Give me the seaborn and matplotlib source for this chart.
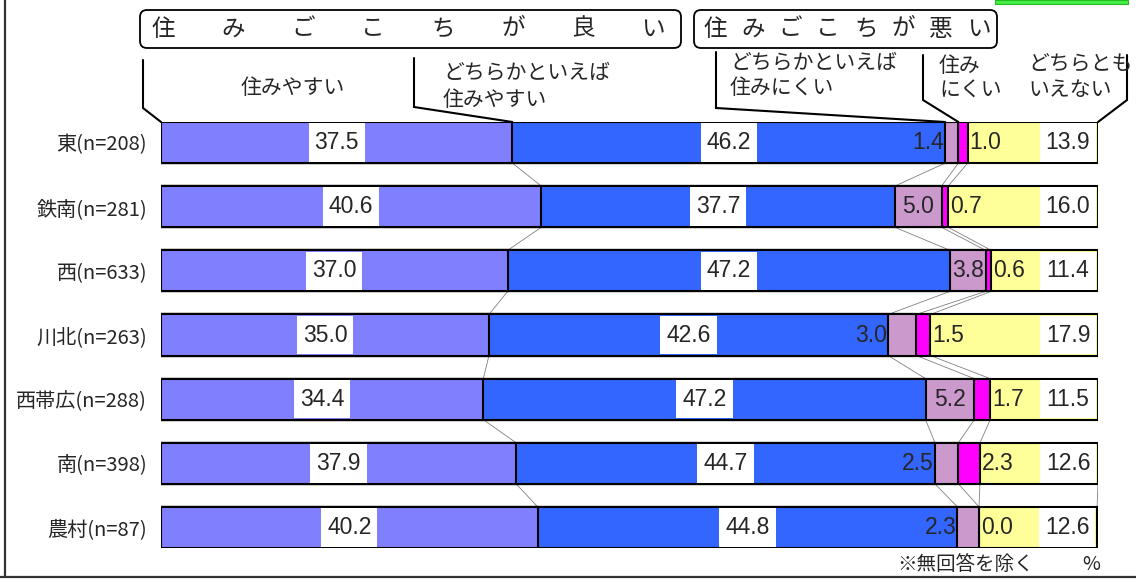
import numpy as np
import pandas as pd
import matplotlib
matplotlib.use("Agg")
import matplotlib.pyplot as plt
from matplotlib.patches import FancyBboxPatch, Rectangle
import seaborn as sns

# 地区別の住みごこち（%）
areas = ["東(n=208)", "鉄南(n=281)", "西(n=633)", "川北(n=263)",
         "西帯広(n=288)", "南(n=398)", "農村(n=87)"]
easy = [37.5, 40.6, 37.0, 35.0, 34.4, 37.9, 40.2]          # 住みやすい
rather_easy = [46.2, 37.7, 47.2, 42.6, 47.2, 44.7, 44.8]   # どちらかといえば住みやすい
rather_hard = [1.4, 5.0, 3.8, 3.0, 5.2, 2.5, 2.3]          # どちらかといえば住みにくい
hard = [1.0, 0.7, 0.6, 1.5, 1.7, 2.3, 0.0]                 # 住みにくい
neither = [13.9, 16.0, 11.4, 17.9, 11.5, 12.6, 12.6]       # どちらともいえない

colors = ["#8080FF", "#3366FF", "#CC99CC", "#FF00FF", "#FFFF99"]

sns.set_style("white")
plt.rcParams["font.family"] = ["Noto Sans CJK JP", "DejaVu Sans"]

W, H = 1136, 579
fig = plt.figure(figsize=(W / 100, H / 100), dpi=100)
fig.patch.set_facecolor("white")

ax = fig.add_axes([161 / W, (H - 548) / H, 937 / W, 426 / H])

vals = np.array([easy, rather_easy, rather_hard, hard, neither]).T
cum = vals.cumsum(axis=1)
starts = cum - vals
n = len(areas)
half = 0.32

# stacked bars: draw running totals from the longest down
for k in range(4, -1, -1):
    df = pd.DataFrame({"area": areas, "total": cum[:, k]})
    sns.barplot(data=df, x="total", y="area", orient="h", color=colors[k],
                saturation=1, width=2 * half, edgecolor="black", linewidth=1.5,
                errorbar=None, ax=ax, zorder=2)

ax.set_xlim(0, 100)
ax.set_ylim(n - 1 + half, -half)
ax.set_xlabel("")
ax.set_ylabel("")
ax.set_xticks([])
for sp in ax.spines.values():
    sp.set_visible(False)
ax.tick_params(axis="y", length=0, pad=10, labelsize=14.5)
for lab in ax.get_yticklabels():
    lab.set_fontfamily(["Noto Sans CJK JP", "DejaVu Sans"])

# connector lines between neighbouring bars
for i in range(n - 1):
    for k in range(5):
        ax.plot([cum[i, k], cum[i + 1, k]], [i + half, i + 1 - half],
                color="#808080", lw=0.6, zorder=1)

num_font = dict(family=["Liberation Sans", "DejaVu Sans"], size=16.5)


def boxed(x, y, s):
    ax.add_patch(Rectangle((x - 3.0, y - 0.3), 6.0, 0.6, facecolor="white",
                           edgecolor="none", zorder=3))
    ax.text(x, y, s, ha="center", va="center", zorder=4, **num_font)


for i in range(n):
    boxed(starts[i, 0] + vals[i, 0] / 2, i, f"{easy[i]:.1f}")
    boxed(starts[i, 1] + vals[i, 1] / 2, i, f"{rather_easy[i]:.1f}")
    if rather_hard[i] >= 3.5:
        ax.text(starts[i, 2] + vals[i, 2] / 2, i, f"{rather_hard[i]:.1f}",
                ha="center", va="center", zorder=4, **num_font)
    else:
        ax.text(starts[i, 2] - 0.1, i, f"{rather_hard[i]:.1f}",
                ha="right", va="center", zorder=4, **num_font)
    ax.text(cum[i, 3] + 0.2, i, f"{hard[i]:.1f}", ha="left", va="center",
            zorder=4, **num_font)
    boxed(cum[i, 4] - 3.2, i, f"{neither[i]:.1f}")

# overlay in pixel coordinates for headers and frame
ov = fig.add_axes([0, 0, 1, 1], zorder=5)
ov.set_xlim(0, W)
ov.set_ylim(H, 0)
ov.axis("off")
ov.patch.set_alpha(0)

for (x0, w, text, x_first, x_last) in [(140, 541, "住みごこちが良い", 163, 653),
                                       (694, 303, "住みごこちが悪い", 715, 979)]:
    ov.add_patch(FancyBboxPatch((x0, 10), w, 38,
                                boxstyle="round,pad=0,rounding_size=7",
                                facecolor="white", edgecolor="black", lw=1.3))
    for ch, cx in zip(text, np.linspace(x_first, x_last, len(text))):
        ov.text(cx, 29, ch, ha="center", va="center", fontsize=17)


def to_overlay(x, y):
    px, py = ax.transData.transform((x, y))
    return px, H - py


leader_x = [143, 414, 716, 923, 1127]
leader_top = [60, 58, 52, 55, 55]
leader_knee = [108, 107, 108, 100, 100]
targets = [0.0, cum[0, 0], cum[0, 1], cum[0, 2], cum[0, 4]]
for lx, lt, lk, tx in zip(leader_x, leader_top, leader_knee, targets):
    ex, ey = to_overlay(tx, -half)
    ov.plot([lx, lx, ex], [lt, lk, ey], color="black", lw=1.5,
            solid_joinstyle="miter")

header_lines = [("住みやすい", 293, 88, "center"),
                ("どちらかといえば", 443, 73, "left"), ("住みやすい", 443, 100, "left"),
                ("どちらかといえば", 730, 63, "left"), ("住みにくい", 730, 88, "left"),
                ("住み", 939, 66, "left"), ("にくい", 939, 91, "left"),
                ("どちらとも", 1028, 64, "left"), ("いえない", 1028, 90, "left")]
for s, x, y, ha in header_lines:
    ov.text(x, y, s, ha=ha, va="center", fontsize=15)

ov.text(897, 565, "※無回答を除く", ha="left", va="center", fontsize=14)
ov.text(1082, 565, "%", ha="left", va="center", fontsize=14)

# outer frame pieces and the tab at the top edge
ov.plot([5, 5], [0, 577], color="#333333", lw=1.6)
ov.plot([0, W], [577, 577], color="#333333", lw=1.6)
ov.add_patch(Rectangle((995, 0), 133, 4, facecolor="#44EE44", edgecolor="#22BB22", lw=0.8))

fig.savefig("out.png", dpi=100)
